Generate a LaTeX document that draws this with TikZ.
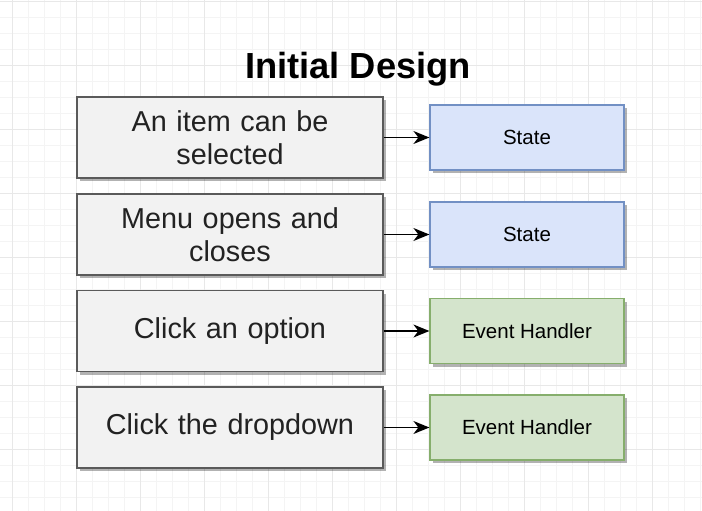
\documentclass[tikz,border=0pt]{standalone}
\usepackage{fontspec}
\setmainfont{Liberation Sans}
\usetikzlibrary{arrows.meta,shadows}
\definecolor{gridminor}{HTML}{F4F4F4}
\definecolor{gridmajor}{HTML}{E8E8E8}
\definecolor{leftfill}{HTML}{F2F2F2}
\definecolor{leftdraw}{HTML}{5A5A5A}
\definecolor{lefttext}{HTML}{222222}
\definecolor{statefill}{HTML}{DAE4FA}
\definecolor{statedraw}{HTML}{7290C4}
\definecolor{evfill}{HTML}{D4E4CC}
\definecolor{evdraw}{HTML}{86AE6C}
\tikzset{
  boxshadow/.style={drop shadow={shadow xshift=3pt,shadow yshift=-3pt,fill=black,opacity=0.3}},
  leftbox/.style={draw=leftdraw,fill=leftfill,line width=1.4pt,minimum width=306pt,minimum height=81pt,
    text width=290pt,align=center,text=lefttext,font=\fontsize{28.8}{32.5}\selectfont,inner sep=0pt,boxshadow},
  rightbox/.style={line width=1.2pt,minimum width=194pt,minimum height=65pt,align=center,
    font=\fontsize{20.5}{24}\selectfont,inner sep=0pt,boxshadow},
  statebox/.style={rightbox,draw=statedraw,fill=statefill},
  evbox/.style={rightbox,draw=evdraw,fill=evfill},
  conn/.style={line width=1.4pt,arrows={-Stealth[length=16pt,width=13pt,inset=5pt]}},
}
\begin{document}
\begin{tikzpicture}[x=1pt,y=1pt]
\useasboundingbox (0,0) rectangle (702,-511);
\fill[white] (0,0) rectangle (702,-511);
% grid
\foreach \i in {0,...,44} {
  \draw[gridminor,line width=0.6pt] ({12.7+16*(\i-1)},0) -- ({12.7+16*(\i-1)},-511);
}
\foreach \i in {0,...,32} {
  \draw[gridminor,line width=0.6pt] (0,{-1-16*\i}) -- (702,{-1-16*\i});
}
\foreach \i in {0,...,11} {
  \draw[gridmajor,line width=0.9pt] ({12.7+64*\i},0) -- ({12.7+64*\i},-511);
}
\foreach \i in {0,...,8} {
  \draw[gridmajor,line width=0.9pt] (0,{-1-64*\i}) -- (702,{-1-64*\i});
}
% title
\node[font=\bfseries\fontsize{36.3}{40}\selectfont,inner sep=0pt,anchor=base] (title) at (358,-78) {Initial Design};
% left boxes
\node[leftbox] (l1) at (230,-137.5) {An item can be\\selected};
\node[leftbox] (l2) at (230,-234.5) {Menu opens and\\closes};
\node[leftbox] (l3) at (230,-331) {Click an option};
\node[leftbox] (l4) at (230,-427.5) {Click the dropdown};
% right boxes
\node[statebox] (r1) at (527,-137.5) {State};
\node[statebox] (r2) at (527,-234.5) {State};
\node[evbox] (r3) at (527,-331) {Event Handler};
\node[evbox] (r4) at (527,-427.5) {Event Handler};
% connectors
\draw[conn] (l1.east) -- (l1.east -| r1.west);
\draw[conn] (l2.east) -- (l2.east -| r2.west);
\draw[conn] (l3.east) -- (l3.east -| r3.west);
\draw[conn] (l4.east) -- (l4.east -| r4.west);
\end{tikzpicture}
\end{document}
